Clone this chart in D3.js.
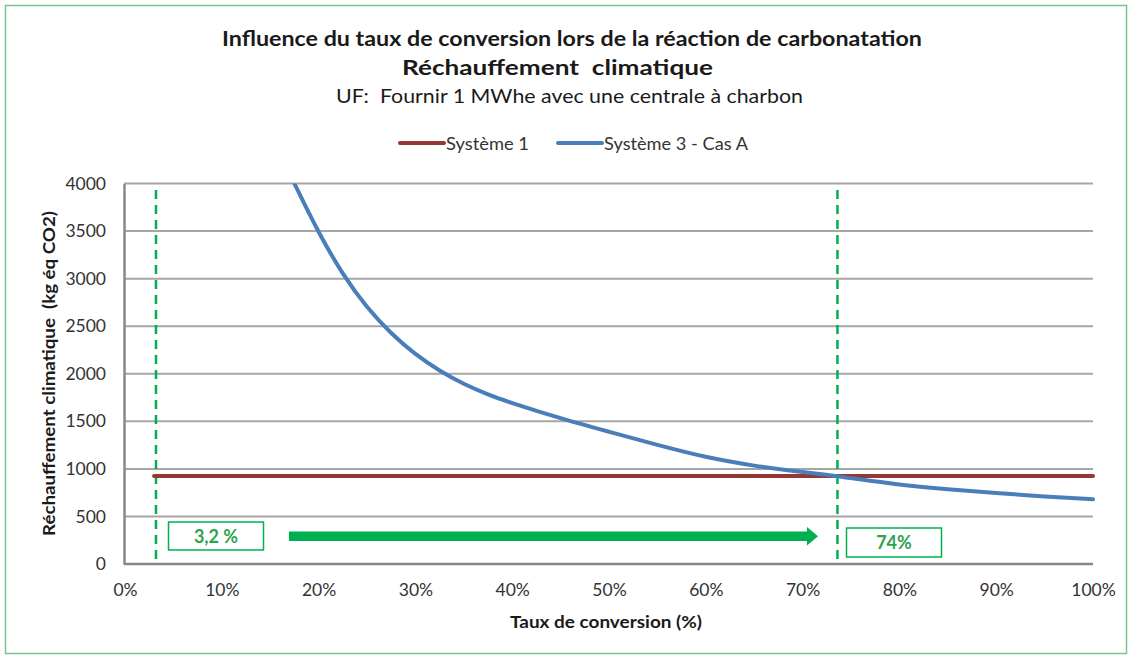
<!DOCTYPE html>
<html>
<head>
<meta charset="utf-8">
<script src="https://cdn.jsdelivr.net/npm/d3@7"></script>
<style>
  html, body { margin: 0; padding: 0; background: #fff; }
  svg { display: block; font-family: Lato, "Open Sans", sans-serif; }
</style>
</head>
<body>
<svg id="chart" width="1129" height="657"></svg>
<script>
// ---- Data ----
const titleLines = ["Influence du taux de conversion lors de la réaction de carbonatation", "Réchauffement  climatique"];
const subtitle = "UF:  Fournir 1 MWhe avec une centrale à charbon";
const seriesNames = ["Système 1", "Système 3 - Cas A"];
const xTitle = "Taux de conversion (%)";
const yTitle = "Réchauffement climatique  (kg éq CO2)";
const yTicks = [0, 500, 1000, 1500, 2000, 2500, 3000, 3500, 4000];
const xTicks = [0, 10, 20, 30, 40, 50, 60, 70, 80, 90, 100];
// Système 1 (constant)
const sys1X = [3, 100];
const sys1Y = [925, 925];
// Système 3 - Cas A
const sys3X = [17.5, 20, 22.5, 25, 27.5, 30, 32.5, 35, 37.5, 40, 45, 50, 55, 60, 65, 70, 73.5, 80, 85, 90, 95, 100];
const sys3Y = [4000, 3480, 3040, 2690, 2420, 2200, 2030, 1890, 1780, 1690, 1530, 1390, 1250, 1120, 1030, 965, 925, 830, 785, 745, 710, 680];
// annotations
const markerX = [3.2, 73.6];
const markerLabels = ["3,2 %", "74%"];

(function () {
// ---- Layout ----
const svg = d3.select("#chart");
const W = 1129, H = 657;
const pL = 124, pR = 1093, pT = 183.5, pB = 564;
const x = d3.scaleLinear().domain([0, 100]).range([pL + 1, pR]);
const y = d3.scaleLinear().domain([0, 4000]).range([pB, pT]);
const green = "#00b050";
const fontF = "Lato, sans-serif";

// outer border
svg.append("rect").attr("x", 5.5).attr("y", 5.5).attr("width", W - 8).attr("height", H - 9)
  .attr("fill", "none").attr("stroke", "#7cc48e").attr("stroke-width", 1.5);

// titles
svg.append("text").attr("x", 572).attr("y", 46).attr("text-anchor", "middle")
  .attr("font-size", 21.5).attr("font-weight", "bold").attr("fill", "#1a1a1a")
  .attr("textLength", 700).attr("lengthAdjust", "spacingAndGlyphs").text(titleLines[0]);
svg.append("text").attr("x", 557.5).attr("y", 75).attr("text-anchor", "middle")
  .attr("font-size", 21.5).attr("font-weight", "bold").attr("fill", "#1a1a1a")
  .style("white-space", "pre")
  .attr("textLength", 311).attr("lengthAdjust", "spacingAndGlyphs").text(titleLines[1]);
svg.append("text").attr("x", 569.5).attr("y", 103).attr("text-anchor", "middle")
  .attr("font-size", 20).attr("fill", "#1a1a1a").style("white-space", "pre")
  .attr("textLength", 467).attr("lengthAdjust", "spacingAndGlyphs").text(subtitle);

// legend
const legendItems = [
  {name: seriesNames[0], color: "#953735", x0: 400, w: 83},
  {name: seriesNames[1], color: "#4a7ebb", x0: 558, w: 144}
];
legendItems.forEach(d => {
  svg.append("line").attr("x1", d.x0).attr("x2", d.x0 + 44).attr("y1", 143).attr("y2", 143)
    .attr("stroke", d.color).attr("stroke-width", 4).attr("stroke-linecap", "round");
  svg.append("text").attr("x", d.x0 + 46).attr("y", 149.5).attr("font-size", 17.5)
    .attr("fill", "#333").attr("textLength", d.w).attr("lengthAdjust", "spacingAndGlyphs").text(d.name);
});

// gridlines
svg.append("g").selectAll("line").data(yTicks.filter(v => v > 0)).enter().append("line")
  .attr("x1", pL).attr("x2", pR).attr("y1", d => y(d)).attr("y2", d => y(d))
  .attr("stroke", "#a6a6a6").attr("stroke-width", 2);

// axes
const yAxis = d3.axisLeft(y).tickValues(yTicks).tickSize(0).tickPadding(18).tickFormat(d3.format("d"));
const gy = svg.append("g").attr("transform", `translate(${pL},0)`).call(yAxis);
gy.select(".domain").attr("stroke", "#888").attr("stroke-width", 2.5);
gy.selectAll("text").attr("font-size", 17.5).attr("fill", "#333").attr("font-family", fontF);

const xAxis = d3.axisBottom(x).tickValues(xTicks).tickSize(0).tickPadding(20).tickFormat(d => d + "%");
const gx = svg.append("g").attr("transform", `translate(0,${pB})`).call(xAxis);
gx.select(".domain").attr("stroke", "#888").attr("stroke-width", 2.5).attr("d", `M${pL},0H${pR}`);
gx.selectAll("text").attr("font-size", 17.5).attr("fill", "#333").attr("font-family", fontF);

// axis titles
svg.append("text").attr("x", 606).attr("y", 628).attr("text-anchor", "middle")
  .attr("font-size", 17.5).attr("font-weight", "bold").attr("fill", "#1a1a1a")
  .attr("textLength", 192).attr("lengthAdjust", "spacingAndGlyphs").text(xTitle);
svg.append("text").attr("transform", `translate(55,373.5) rotate(-90)`).attr("text-anchor", "middle")
  .attr("font-size", 17.5).attr("font-weight", "bold").attr("fill", "#1a1a1a")
  .style("white-space", "pre")
  .attr("textLength", 325).attr("lengthAdjust", "spacingAndGlyphs").text(yTitle);

// clip
svg.append("clipPath").attr("id", "clip").append("rect")
  .attr("x", pL).attr("y", pT).attr("width", pR - pL + 4).attr("height", pB - pT);

// dashed markers
svg.append("g").selectAll("line").data(markerX).enter().append("line")
  .attr("x1", d => x(d)).attr("x2", d => x(d)).attr("y1", 190).attr("y2", pB)
  .attr("stroke", green).attr("stroke-width", 2.5).attr("stroke-dasharray", "9,6");

// series
const line = d3.line().x(d => x(d[0])).y(d => y(d[1]));
svg.append("path").datum(sys1X.map((v, i) => [v, sys1Y[i]]))
  .attr("d", line).attr("fill", "none").attr("stroke", "#953735").attr("stroke-width", 4).attr("stroke-linecap", "round");
svg.append("path").datum(sys3X.map((v, i) => [v, sys3Y[i]]))
  .attr("clip-path", "url(#clip)")
  .attr("d", line.curve(d3.curveBasis)).attr("fill", "none").attr("stroke", "#4a7ebb").attr("stroke-width", 4).attr("stroke-linecap", "round");

// annotation boxes
const boxes = [
  {x0: 168.5, y0: 522, w: 95, h: 28, label: markerLabels[0]},
  {x0: 846.5, y0: 528, w: 95, h: 29, label: markerLabels[1]}
];
boxes.forEach(b => {
  svg.append("rect").attr("x", b.x0).attr("y", b.y0).attr("width", b.w).attr("height", b.h)
    .attr("fill", "#fff").attr("stroke", green).attr("stroke-width", 1.5);
  svg.append("text").attr("x", b.x0 + b.w / 2).attr("y", b.y0 + b.h / 2 + 6.5).attr("text-anchor", "middle")
    .attr("font-size", 18).attr("font-weight", "bold").attr("fill", "#2ca44e").text(b.label);
});

// arrow
svg.append("path")
  .attr("d", `M289,531.5 H807 V527 L818,536.3 L807,545.5 V541 H289 Z`)
  .attr("fill", green);
})();
</script>
</body>
</html>
